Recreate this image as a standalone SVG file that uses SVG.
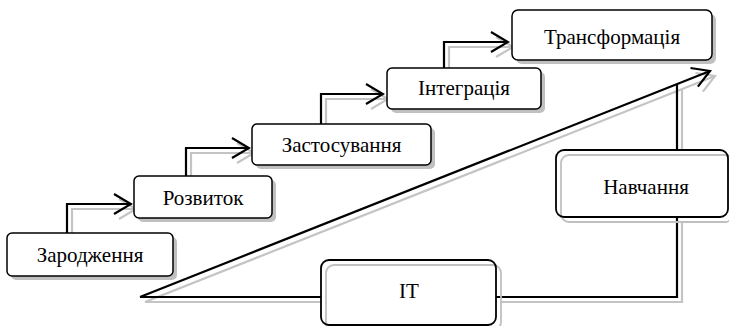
<svg xmlns="http://www.w3.org/2000/svg" width="729" height="326" viewBox="0 0 729 326">
<style>
.bx{fill:#fff;stroke:#000;stroke-width:1.5}
.sh{fill:#c0c0c0;stroke:none}
.ol{fill:none;stroke:#000;stroke-width:1.8}
.og{fill:none;stroke:#c0c0c0;stroke-width:1.8}
.ln{fill:none;stroke:#000;stroke-width:2.2}
.lg{fill:none;stroke:#c4c4c4;stroke-width:2.2}
text{font-size:21px;fill:#000;text-anchor:middle}
</style>
<defs>
<marker id="a" viewBox="-20 -12 22 24" markerWidth="22" markerHeight="24" refX="0" refY="0" orient="auto" markerUnits="userSpaceOnUse">
<path d="M-17,-10 L0,0 L-17,10" fill="none" stroke="#000" stroke-width="2.2"/>
</marker>
<marker id="ag" viewBox="-20 -12 22 24" markerWidth="22" markerHeight="24" refX="0" refY="0" orient="auto" markerUnits="userSpaceOnUse">
<path d="M-17,-10 L0,0 L-17,10" fill="none" stroke="#c4c4c4" stroke-width="2.2"/>
</marker>
</defs>
<rect width="729" height="326" fill="#fff"/>
<g id="connector-shadows">
<path class="lg" d="M72,238 V209 H136" marker-end="url(#ag)"/>
<path class="lg" d="M191,181 V153 H254" marker-end="url(#ag)"/>
<path class="lg" d="M326,129 V99 H388" marker-end="url(#ag)"/>
<path class="lg" d="M449,73 V47 H513" marker-end="url(#ag)"/>
<path class="lg" d="M145,302 L715,76" marker-end="url(#ag)"/>
<path class="lg" d="M145,302 H326"/>
<path class="lg" d="M501,302 H682 V222"/>
<path class="lg" d="M682,155 V89"/>
</g>
<g id="connectors">
<path class="ln" d="M67,233 V204 H131" marker-end="url(#a)"/>
<path class="ln" d="M186,176 V148 H249" marker-end="url(#a)"/>
<path class="ln" d="M321,124 V94 H383" marker-end="url(#a)"/>
<path class="ln" d="M444,68 V42 H508" marker-end="url(#a)"/>
<path class="ln" d="M140,297 L710,71" marker-end="url(#a)"/>
<path class="ln" d="M140,297 H321"/>
<path class="ln" d="M496,297 H677 V217"/>
<path class="ln" d="M677,150 V84.5"/>
</g>
<g font-family="'Liberation Serif', 'DejaVu Serif', serif">
<g id="n-zarodzhennia">
<rect class="sh" x="11" y="237" width="166" height="43" rx="5"/>
<rect class="bx" x="7" y="233" width="166" height="43" rx="5"/>
<text x="90" y="262">Зародження</text>
</g>
<g id="n-rozvytok">
<rect class="sh" x="138" y="180" width="138" height="42" rx="5"/>
<rect class="bx" x="134" y="176" width="138" height="42" rx="5"/>
<text x="203" y="205">Розвиток</text>
</g>
<g id="n-zastosuvannia">
<rect class="sh" x="256" y="128" width="179" height="41" rx="5"/>
<rect class="bx" x="252" y="124" width="179" height="41" rx="5"/>
<text x="341.5" y="152">Застосування</text>
</g>
<g id="n-intehratsiia">
<rect class="sh" x="391" y="72" width="154" height="41" rx="5"/>
<rect class="bx" x="387" y="68" width="154" height="41" rx="5"/>
<text x="464" y="95">Інтеграція</text>
</g>
<g id="n-transformatsiia">
<rect class="sh" x="516" y="14" width="200" height="50" rx="6"/>
<rect class="bx" x="512" y="10" width="200" height="50" rx="6"/>
<text x="612" y="44">Трансформація</text>
</g>
<g id="n-navchannia">
<rect x="556" y="150" width="172" height="67" rx="8" fill="#fff"/>
<rect class="og" x="561" y="155" width="172" height="67" rx="8"/>
<rect class="ol" x="556" y="150" width="172" height="67" rx="8"/>
<text x="646" y="194">Навчання</text>
</g>
<g id="n-it">
<rect x="321" y="260" width="175" height="65" rx="8" fill="#fff"/>
<rect class="og" x="326" y="265" width="175" height="65" rx="8"/>
<rect class="ol" x="321" y="260" width="175" height="65" rx="8"/>
<text x="409" y="298">IT</text>
</g>
</g>
</svg>
